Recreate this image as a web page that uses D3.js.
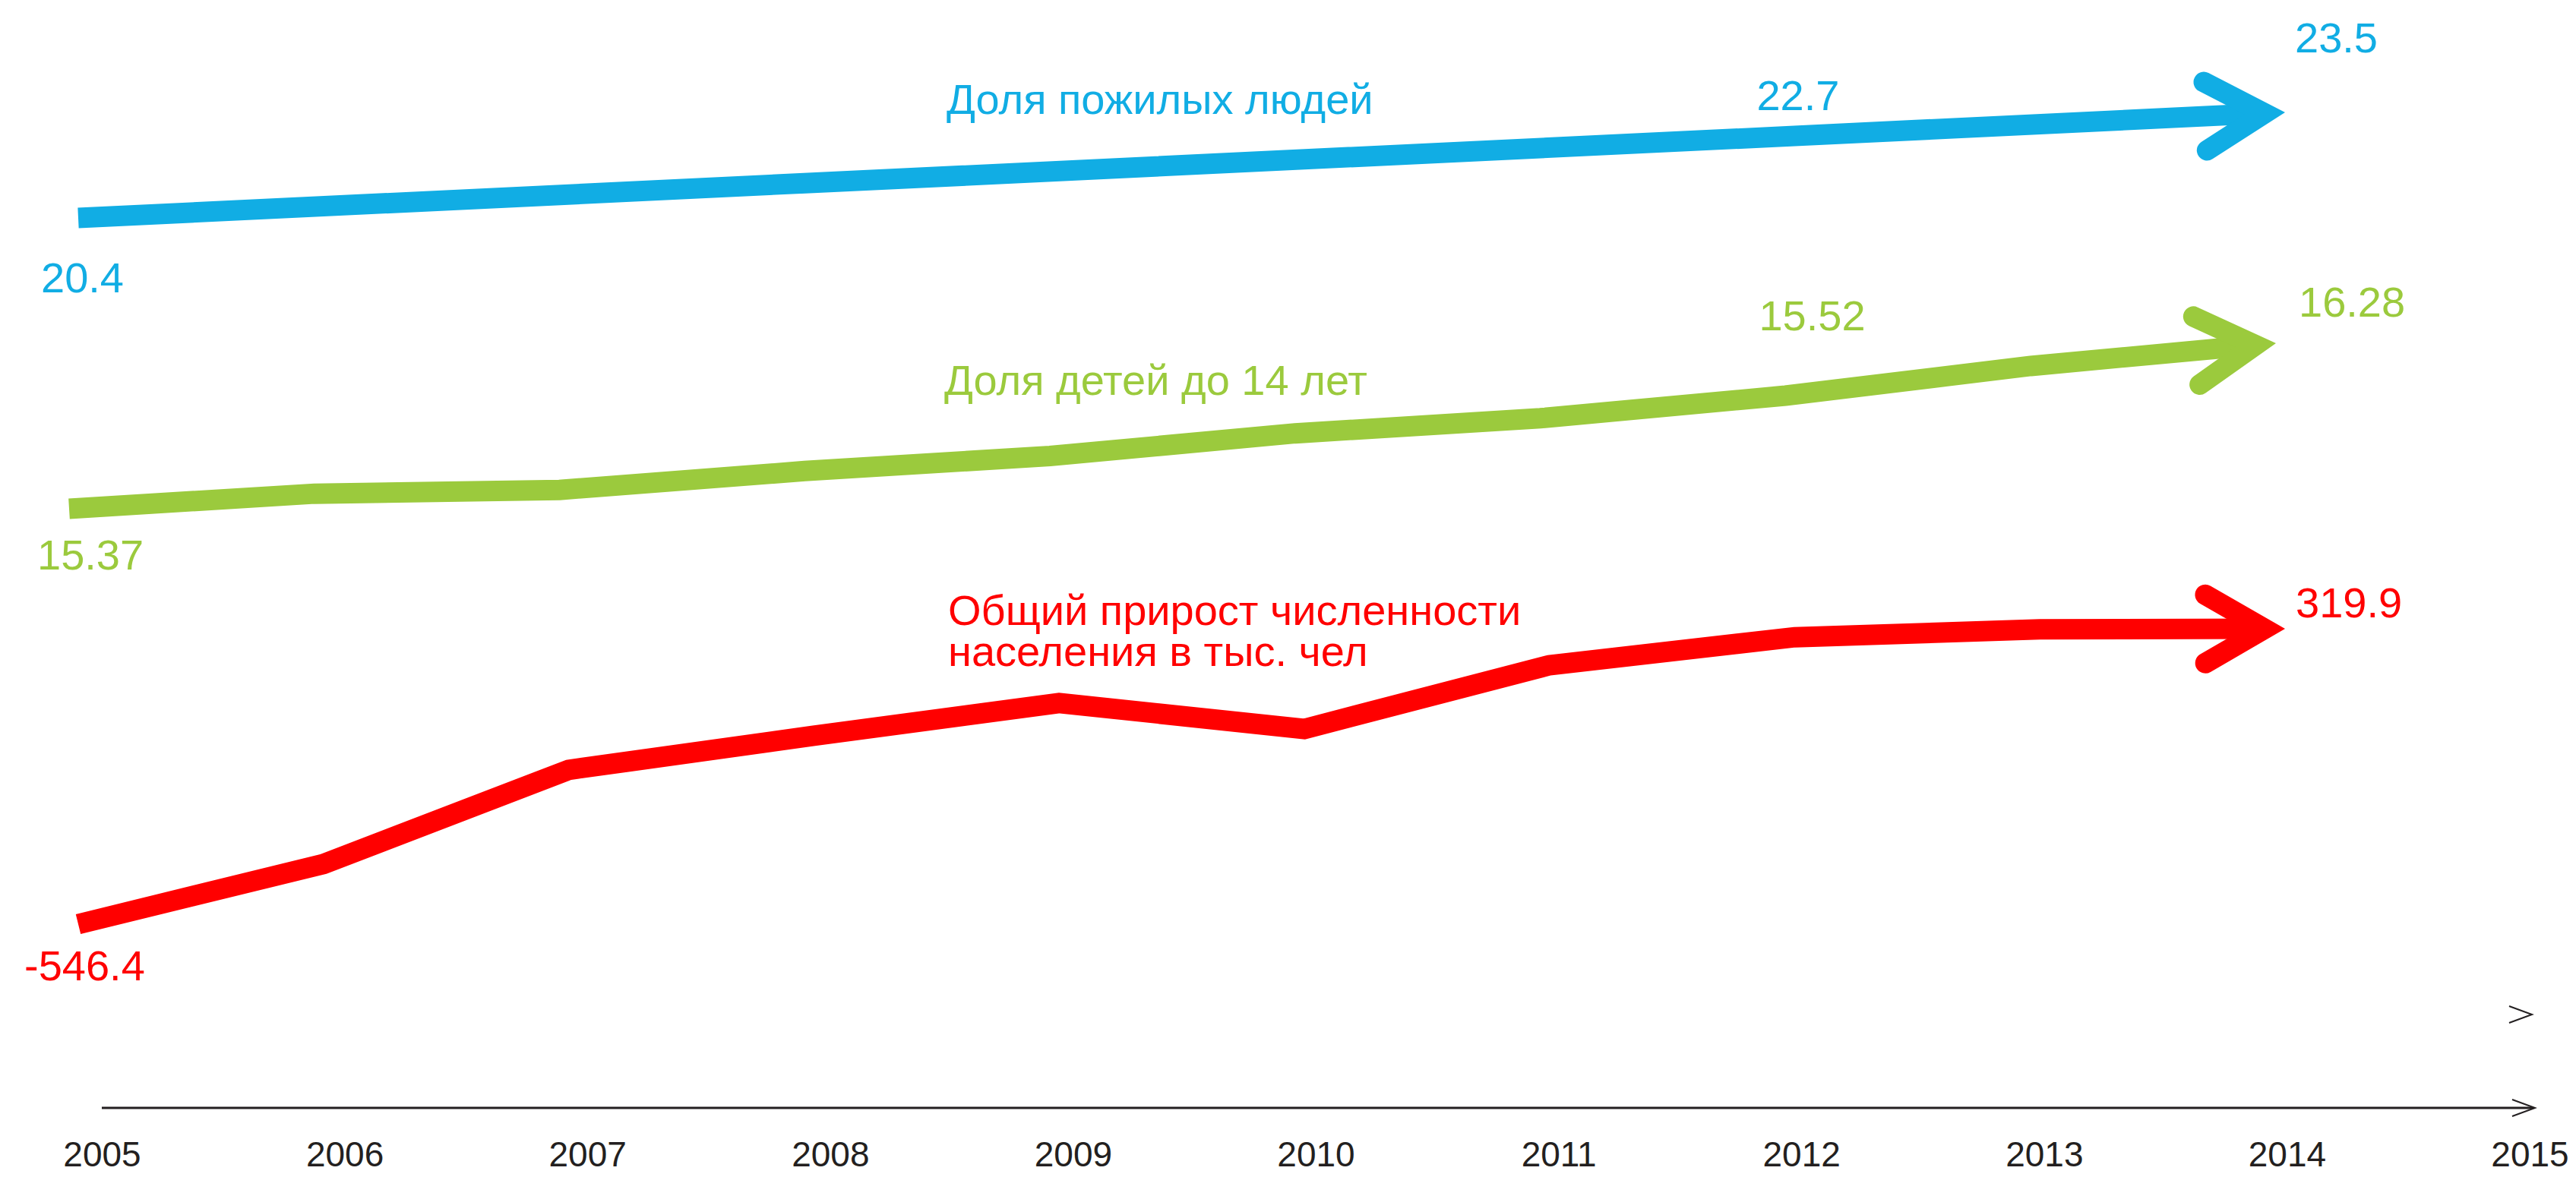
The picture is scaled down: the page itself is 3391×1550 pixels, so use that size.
<!DOCTYPE html>
<html>
<head>
    <meta charset="utf-8">
    <title>Население</title>
    <style>
    body { margin: 0; background: #fff; }
    svg { display: block; font-family: "Liberation Sans", Arial, sans-serif; }
    .series-line {
        fill: none;
        stroke-width: 27px;
        stroke-linecap: butt;
        stroke-linejoin: miter;
    }
    .arrow-head {
        fill: none;
        stroke-width: 27px;
        stroke-linecap: round;
        stroke-linejoin: miter;
        stroke-miterlimit: 10;
    }
    .value-label, .series-title { font-size: 56px; }
    .year-axis text { font-size: 46px; fill: #231f20; }
    </style>
</head>
<body>
<svg id="chart"></svg>
<script src="https://d3js.org/d3.v7.min.js"></script>
<script>

    // years under the time axis
    const axisYears = [2005, 2006, 2007, 2008, 2009, 2010, 2011, 2012, 2013, 2014, 2015];

    // Доля пожилых людей, %
    const elderlyYears = [2005, 2012, 2014];
    const elderlyValues = [20.4, 22.7, 23.5];
    const elderlyLabels = ["20.4", "22.7", "23.5"];

    // Доля детей до 14 лет, %
    const childYears = [2005, 2006, 2007, 2008, 2009, 2010, 2011, 2012, 2013, 2014];
    const childValues = [15.37, 15.39, 15.395, 15.42, 15.44, 15.47, 15.49, 15.52, 15.95, 16.28];
    const childLabelYears = [2005, 2012, 2014];
    const childLabels = ["15.37", "15.52", "16.28"];

    // Общий прирост численности населения, тыс. чел
    const growthYears = [2005, 2006, 2007, 2008, 2009, 2010, 2011, 2012, 2013, 2014];
    const growthValues = [-546.4, -370, -94, 6, 102, 26, 213, 295, 318, 319.9];
    const growthLabelYears = [2005, 2014];
    const growthLabels = ["-546.4", "319.9"];

    const svgWidth = 3391, svgHeight = 1550;
    const svg = d3.select("#chart")
        .attr("width", svgWidth)
        .attr("height", svgHeight);

    // x scale for the year labels, and one for the arrows
    const xAxisScale = d3.scaleLinear().domain([2005, 2015]).range([134, 3330]);
    const xLine = d3.scaleLinear().domain([2005, 2014]).range([103, 3008]);

    // each arrow lives in its own band of the picture;
    // the picture is not to scale, so the labelled values are used as stops
    const series = [
        {
            years: elderlyYears, values: elderlyValues,
            labelYears: elderlyYears, labels: elderlyLabels,
            color: "#11ade4", shift: 0,
            y: d3.scaleLinear().domain(elderlyLabels.map(Number)).range([287, 179, 148]),
            offsets: [[-49, 98], [-50, -34], [13, -79]],
            title: ["Доля пожилых людей"], titleX: 1246, titleY: 150
        },
        {
            years: childYears, values: childValues,
            labelYears: childLabelYears, labels: childLabels,
            color: "#9bca3d", shift: -12,
            y: d3.scaleLinear().domain(childLabels.map(Number)).range([670, 521, 452]),
            offsets: [[-42, 80], [-35, -86], [30, -35]],
            title: ["Доля детей до 14 лет"], titleX: 1243, titleY: 520
        },
        {
            years: growthYears, values: growthValues,
            labelYears: growthLabelYears, labels: growthLabels,
            color: "#ff0000", shift: 0,
            y: d3.scaleLinear().domain(d3.extent(growthValues)).range([1217, 828]),
            offsets: [[-71, 74], [14, -15]],
            title: ["Общий прирост численности", "населения в тыс. чел"], titleX: 1248, titleY: 823
        }
    ];

    const line = d3.line();

    series.forEach(function(s) {
        const pts = s.years.map(function(yr, i) {
            return [xLine(yr) + s.shift, s.y(s.values[i])];
        });

        // arrow head: tip at the last point, vertex pulled back by the miter
        const p = pts[pts.length - 1], q = pts[pts.length - 2];
        const len = Math.hypot(p[0] - q[0], p[1] - q[1]);
        const dx = (p[0] - q[0]) / len, dy = (p[1] - q[1]) / len;
        const ang = 30 * Math.PI / 180, arm = 90;
        const back = 13.5 / Math.sin(ang);
        const v = [p[0] - dx * back, p[1] - dy * back];
        function armEnd(sign) {
            const c = Math.cos(ang), sn = Math.sin(sign * ang);
            return [v[0] + arm * (-dx * c + dy * sn), v[1] + arm * (-dx * sn - dy * c)];
        }

        const body = pts.slice(0, -1).concat([v]);
        svg.append("path")
            .attr("class", "series-line")
            .attr("stroke", s.color)
            .attr("d", line(body));

        svg.append("path")
            .attr("class", "arrow-head")
            .attr("stroke", s.color)
            .attr("d", line([armEnd(1), v, armEnd(-1)]));

        // value labels next to their points
        s.labelYears.forEach(function(yr, i) {
            const k = s.years.indexOf(yr);
            svg.append("text")
                .attr("class", "value-label")
                .attr("fill", s.color)
                .attr("x", pts[k][0] + s.offsets[i][0])
                .attr("y", pts[k][1] + s.offsets[i][1])
                .text(s.labels[i]);
        });

        // series name, one text per line
        s.title.forEach(function(str, i) {
            svg.append("text")
                .attr("class", "series-title")
                .attr("fill", s.color)
                .attr("x", s.titleX)
                .attr("y", s.titleY + i * 54)
                .text(str);
        });
    });

    // time axis with an open arrow at the end
    const axisY = 1459;
    svg.append("g")
        .attr("class", "year-axis")
        .attr("transform", "translate(0," + axisY + ")")
        .call(d3.axisBottom(xAxisScale)
            .tickValues(axisYears)
            .tickFormat(d3.format("d"))
            .tickSize(0)
            .tickPadding(44))
        .call(function(g) { g.select(".domain").remove(); });

    svg.append("line")
        .attr("x1", xAxisScale(2005)).attr("x2", 3335)
        .attr("y1", axisY).attr("y2", axisY)
        .attr("stroke", "#231f20")
        .attr("stroke-width", 3);

    function chevron(tipX, tipY) {
        svg.append("path")
            .attr("d", line([[tipX - 30, tipY - 11], [tipX, tipY], [tipX - 30, tipY + 11]]))
            .attr("fill", "none")
            .attr("stroke", "#231f20")
            .attr("stroke-width", 2);
    }
    chevron(3337, axisY);
    chevron(3333, 1336);

</script>
</body>
</html>
